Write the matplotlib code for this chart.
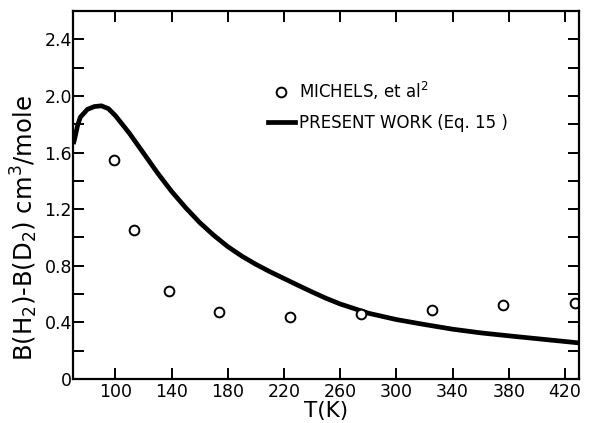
import matplotlib
matplotlib.use('Agg')
import matplotlib.pyplot as plt
from matplotlib.ticker import MultipleLocator, FuncFormatter
from matplotlib.lines import Line2D

plt.rcParams['font.family'] = ['DejaVu Sans']
plt.rcParams['mathtext.default'] = 'regular'

# Michels et al. data
michels_T = [99, 113, 138, 174, 224, 275, 325, 376, 427]
michels_B = [1.545, 1.055, 0.625, 0.47, 0.435, 0.46, 0.487, 0.523, 0.535]

# present work curve (Eq. 15)
work_T = [70, 71, 73, 75, 80, 85, 90, 95, 100, 110, 120, 130, 140, 150, 160, 170,
          180, 190, 200, 210, 220, 230, 240, 250, 260, 280, 300, 320, 340, 360, 380,
          400, 420, 430]
work_B = [1.66, 1.70, 1.79, 1.85, 1.905, 1.925, 1.93, 1.91, 1.86, 1.735, 1.595, 1.455,
          1.325, 1.21, 1.105, 1.015, 0.935, 0.868, 0.81, 0.758, 0.71, 0.662, 0.615,
          0.57, 0.53, 0.465, 0.42, 0.385, 0.352, 0.326, 0.305, 0.285, 0.265, 0.255]

fig = plt.figure(figsize=(5.89, 4.23), dpi=100)
ax = fig.add_axes([0.1245, 0.104, 0.8585, 0.870])

ax.plot(work_T, work_B, color='black', lw=3.4, solid_capstyle='butt', solid_joinstyle='round')
ax.plot(michels_T, michels_B, 'o', mfc='white', mec='black', ms=7, mew=1.4)

ax.set_xlim(70, 430)
ax.set_ylim(0, 2.6)

ax.set_xticks(range(100, 421, 40))
ax.yaxis.set_major_locator(MultipleLocator(0.4))
ax.yaxis.set_minor_locator(MultipleLocator(0.2))
ax.yaxis.set_major_formatter(FuncFormatter(lambda v, p: '0' if abs(v) < 1e-9 else '%.1f' % v))

ax.tick_params(which='both', direction='in', top=True, right=True, width=1.4,
               labelsize=12.5, length=8)
ax.tick_params(axis='y', pad=1)
ax.tick_params(axis='x', pad=3)
for s in ax.spines.values():
    s.set_linewidth(1.6)

ax.set_xlabel('T(K)', fontsize=15.5, labelpad=0)
ax.set_ylabel('B(H$_2$)-B(D$_2$) cm$^3$/mole', fontsize=17.5, labelpad=3, y=0.41)

handles = [Line2D([], [], ls='none', marker='o', mfc='white', mec='black', ms=7, mew=1.4),
           Line2D([], [], color='black', lw=3.4)]
labels = ['MICHELS, et al$^2$', 'PRESENT WORK (Eq. 15 )']
ax.legend(handles, labels, loc='upper left', bbox_to_anchor=(0.385, 0.813),
          frameon=False, fontsize=12, handlelength=1.6, handletextpad=0.25,
          labelspacing=0.72, borderpad=0, borderaxespad=0, numpoints=1)

fig.savefig('out.png', dpi=100)
